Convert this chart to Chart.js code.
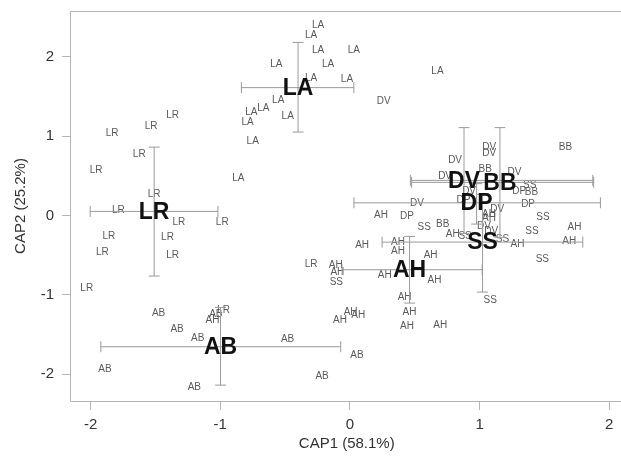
<!DOCTYPE html>
<html>
<head>
<meta charset="utf-8">
<script src="https://cdn.jsdelivr.net/npm/chart.js@4/dist/chart.umd.min.js"></script>
<style>
html,body{margin:0;padding:0;background:#fff;overflow:hidden;}
#wrap{width:621px;height:462px;overflow:hidden;}
</style>
</head>
<body>
<div id="wrap"><canvas id="c" width="630" height="462"></canvas></div>
<script>
// ---- data ----
const xTickVals = [-2, -1, 0, 1, 2];
const yTickVals = [-2, -1, 0, 1, 2];
const xTitle = 'CAP1 (58.1%)';
const yTitle = 'CAP2 (25.2%)';

const groups = ['LA', 'LR', 'AB', 'AH', 'SS', 'DP', 'DV', 'BB'];
const centroidX = [-0.40, -1.51, -0.998, 0.46, 1.023, 0.977, 0.880, 1.157];
const centroidY = [1.61, 0.05, -1.656, -0.685, -0.337, 0.158, 0.441, 0.416];
const errXLow  = [-0.837, -2.003, -1.921, -0.061, 0.248, 0.031, 0.466, 0.476];
const errXHigh = [0.03, -1.018, -0.071, 1.02, 1.796, 1.932, 1.873, 1.880];
const errYLow  = [1.05, -0.765, -2.14, -1.106, -0.967, -0.11, -0.227, -0.277];
const errYHigh = [2.18, 0.86, -1.16, -0.265, 0.265, 0.40, 1.106, 1.106];

const ptsLA = [[-0.246,2.396],[-0.30,2.27],[-0.246,2.08],[0.03,2.08],[-0.568,1.90],[-0.169,1.90],[-0.30,1.73],[-0.023,1.72],[-0.553,1.45],[-0.668,1.35],[-0.76,1.30],[-0.79,1.17],[-0.48,1.25],[-0.75,0.93],[-0.86,0.47],[0.675,1.82]];
const ptsLR = [[-1.368,1.26],[-1.533,1.12],[-1.834,1.04],[-1.625,0.77],[-1.957,0.57],[-1.51,0.27],[-1.786,0.06],[-1.32,-0.09],[-0.985,-0.09],[-1.86,-0.265],[-1.407,-0.27],[-1.909,-0.47],[-1.368,-0.50],[-2.03,-0.92],[-0.30,-0.61],[-0.975,-1.20]];
const ptsAB = [[-1.476,-1.232],[-1.034,-1.252],[-1.333,-1.434],[-1.174,-1.555],[-0.481,-1.56],[-1.89,-1.94],[-1.20,-2.17],[0.054,-1.765],[-0.215,-2.026]];
const ptsAH = [[-1.06,-1.32],[1.072,0.013],[1.072,-0.038],[1.732,-0.148],[1.691,-0.324],[0.240,0.0],[0.793,-0.243],[1.292,-0.362],[0.094,-0.378],[0.371,-0.337],[0.371,-0.454],[0.622,-0.508],[0.269,-0.760],[0.652,-0.820],[0.422,-1.038],[-0.11,-0.63],[-0.097,-0.715],[0.46,-1.219],[0.44,-1.40],[0.696,-1.387],[-0.077,-1.324],[0.064,-1.261],[0.005,-1.219]];
const ptsSS = [[1.387,0.375],[1.489,-0.029],[0.573,-0.148],[1.404,-0.198],[0.888,-0.265],[1.177,-0.303],[1.484,-0.559],[1.082,-1.072],[-0.105,-0.84]];
const ptsDP = [[1.305,0.30],[1.374,0.139],[0.44,-0.013],[0.875,0.19]];
const ptsDV = [[0.261,1.441],[1.074,0.861],[1.074,0.786],[0.811,0.697],[1.269,0.538],[0.734,0.496],[0.919,0.306],[0.517,0.155],[1.136,0.072],[1.034,-0.139],[1.09,-0.20]];
const ptsBB = [[1.663,0.857],[1.044,0.58],[1.40,0.286],[0.716,-0.117]];

const groupPoints = {LA: ptsLA, LR: ptsLR, AB: ptsAB, AH: ptsAH, SS: ptsSS, DP: ptsDP, DV: ptsDV, BB: ptsBB};

// ---- styles ----
const FONT = '"Liberation Sans", Arial, sans-serif';
const ERR_COLOR = '#9a9a9a';
const FRAME_COLOR = '#b4b4b4';

const datasets = [];
groups.forEach((g, i) => {
  datasets.push({
    label: g + '-h',
    data: [{x: errXLow[i], y: centroidY[i]}, {x: errXHigh[i], y: centroidY[i]}],
    showLine: true, borderColor: ERR_COLOR, borderWidth: 1,
    pointStyle: 'line', pointRotation: 90, pointRadius: 5.5,
    pointBorderColor: ERR_COLOR, pointBorderWidth: 1, pointHoverRadius: 5.5
  });
  datasets.push({
    label: g + '-v',
    data: [{x: centroidX[i], y: errYLow[i]}, {x: centroidX[i], y: errYHigh[i]}],
    showLine: true, borderColor: ERR_COLOR, borderWidth: 1,
    pointStyle: 'line', pointRotation: 0, pointRadius: 5.5,
    pointBorderColor: ERR_COLOR, pointBorderWidth: 1, pointHoverRadius: 5.5
  });
});

const labelPlugin = {
  id: 'labels',
  beforeDatasetsDraw(chart) {
    const ctx = chart.ctx, sx = chart.scales.x, sy = chart.scales.y, a = chart.chartArea;
    ctx.save();
    // frame (left, top, bottom; right side lies beyond the visible window)
    ctx.strokeStyle = FRAME_COLOR; ctx.lineWidth = 1;
    const L = Math.round(a.left) + 0.5, T = Math.round(a.top) + 0.5, B = Math.round(a.bottom) + 0.5, R = a.right;
    ctx.beginPath();
    ctx.moveTo(R, T); ctx.lineTo(L, T); ctx.lineTo(L, B); ctx.lineTo(R, B);
    ctx.stroke();
    // small sample labels
    ctx.font = '10px ' + FONT;
    ctx.fillStyle = '#5a5a5a';
    ctx.textAlign = 'center'; ctx.textBaseline = 'middle';
    groups.forEach(g => {
      groupPoints[g].forEach(p => {
        ctx.fillText(g, sx.getPixelForValue(p[0]), sy.getPixelForValue(p[1]));
      });
    });
    ctx.restore();
  },
  afterDatasetsDraw(chart) {
    const ctx = chart.ctx, sx = chart.scales.x, sy = chart.scales.y;
    ctx.save();
    ctx.font = 'bold 23px ' + FONT;
    ctx.fillStyle = '#111';
    ctx.textAlign = 'center'; ctx.textBaseline = 'middle';
    groups.forEach((g, i) => {
      ctx.fillText(g, sx.getPixelForValue(centroidX[i]), sy.getPixelForValue(centroidY[i]) + 1);
    });
    ctx.restore();
  }
};

function zeroPad(s) { s.paddingTop = 0; s.paddingBottom = 0; s.paddingLeft = 0; s.paddingRight = 0; }

new Chart(document.getElementById('c'), {
  type: 'scatter',
  data: {datasets},
  plugins: [labelPlugin],
  options: {
    responsive: false,
    animation: false,
    events: [],
    layout: {padding: {top: 11, right: 5, left: 0, bottom: 0}},
    plugins: {legend: {display: false}, tooltip: {enabled: false}},
    scales: {
      x: {
        type: 'linear', min: -2.159, max: 2.11,
        afterBuildTicks: s => { s.ticks = xTickVals.map(v => ({value: v})); },
        afterFit: s => { s.height = 61; zeroPad(s); },
        border: {display: false},
        grid: {display: true, drawOnChartArea: false, drawTicks: true, tickLength: 9, color: FRAME_COLOR},
        ticks: {font: {family: FONT, size: 15}, color: '#333', padding: 6, maxRotation: 0},
        title: {display: true, text: xTitle, font: {family: FONT, size: 15}, color: '#333', padding: {top: 0, bottom: 9}}
      },
      y: {
        type: 'linear', min: -2.340, max: 2.576,
        afterBuildTicks: s => { s.ticks = yTickVals.map(v => ({value: v})); },
        afterFit: s => { s.width = 70; zeroPad(s); },
        border: {display: false},
        grid: {display: true, drawOnChartArea: false, drawTicks: true, tickLength: 8, color: FRAME_COLOR},
        ticks: {font: {family: FONT, size: 15}, color: '#333', padding: 8},
        title: {display: true, text: yTitle, font: {family: FONT, size: 15}, color: '#333', padding: {top: 12, bottom: 0}}
      }
    }
  }
});
</script>
</body>
</html>
